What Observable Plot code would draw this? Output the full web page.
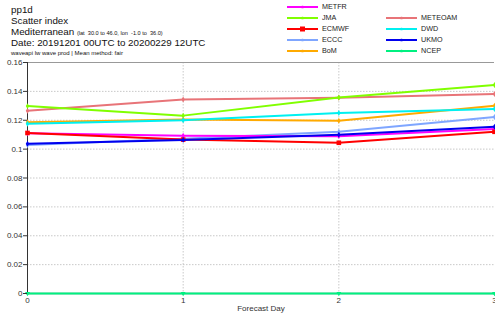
<!DOCTYPE html>
<html><head><meta charset="utf-8">
<script src="https://cdn.jsdelivr.net/npm/d3@7"></script>
<script src="https://cdn.jsdelivr.net/npm/@observablehq/plot@0.6"></script>
<style>
body{margin:0;background:#fff;font-family:"Liberation Sans",Arial,sans-serif;}
#wrap{position:relative;width:495px;height:316px;overflow:hidden;}
#chart{position:absolute;left:0;top:0;}
.t{position:absolute;white-space:nowrap;color:#111;}
.lg{position:absolute;font-size:7.2px;color:#222;white-space:nowrap;}
</style></head>
<body><div id="wrap"><div id="chart"></div>
<div class="t" style="left:11px;top:4px;font-size:9.8px;">pp1d</div>
<div class="t" style="left:11px;top:15px;font-size:9.8px;">Scatter index</div>
<div class="t" style="left:11px;top:26px;font-size:9.8px;">Mediterranean <span style="font-size:5.6px;">(lat&nbsp; 30.0 to 46.0, lon&nbsp; -1.0 to&nbsp; 36.0)</span></div>
<div class="t" style="left:11px;top:37px;font-size:9.8px;">Date: 20191201 00UTC to 20200229 12UTC</div>
<div class="t" style="left:11px;top:50px;font-size:6px;">waveapi lw wave prod | Mean method: fair</div>
<div id="legend"></div>
</div>
<script>
const days = [0, 1, 2, 3];
const seriesNames = ["METFR","JMA","ECMWF","ECCC","BoM","METEOAM","DWD","UKMO","NCEP"];
const seriesColors = ["#ff00ff","#80ff00","#ff0000","#7fa6ff","#ffaa00","#e87478","#00f0f0","#0000ee","#00f080"];
const METFR   = [0.111, 0.1092, 0.109, 0.114];
const JMA     = [0.1298, 0.1232, 0.1357, 0.1444];
const ECMWF   = [0.1112, 0.1066, 0.1044, 0.112];
const ECCC    = [0.1028, 0.1072, 0.112, 0.1222];
const BoM     = [0.1187, 0.1205, 0.1197, 0.130];
const METEOAM = [0.1265, 0.1344, 0.1356, 0.1382];
const DWD     = [0.1176, 0.1200, 0.1250, 0.1278];
const UKMO    = [0.1037, 0.1064, 0.110, 0.1155];
const NCEP    = [0, 0, 0, 0];
const yTicks = [0, 0.02, 0.04, 0.06, 0.08, 0.1, 0.12, 0.14, 0.16];
const xTicks = [0, 1, 2, 3];

const values = {METFR,JMA,ECMWF,ECCC,BoM,METEOAM,DWD,UKMO,NCEP};
const drawOrder = ["NCEP","METEOAM","JMA","BoM","DWD","ECCC","METFR","ECMWF","UKMO"];
const rows = [];
for (const name of drawOrder) days.forEach((d,i)=>rows.push({name, day:d, v:values[name][i]}));
const colorOf = Object.fromEntries(seriesNames.map((n,i)=>[n,seriesColors[i]]));

const marks = [
  Plot.gridY(yTicks.filter(t=>t>0 && t<0.16), {stroke:"#bbb", strokeOpacity:1, strokeDasharray:"1.5,1.5", strokeWidth:0.8}),
  Plot.gridX([1,2], {stroke:"#bbb", strokeOpacity:1, strokeDasharray:"1.5,1.5", strokeWidth:0.8}),
  Plot.ruleY([0.16], {stroke:"#999", strokeWidth:1}),
  Plot.ruleY([0], {stroke:"#999", strokeWidth:1.6}),
  Plot.ruleX([0], {stroke:"#333", strokeWidth:1}),
];
for (const name of drawOrder) {
  const data = rows.filter(r=>r.name===name);
  marks.push(Plot.line(data, {x:"day", y:"v", stroke:colorOf[name], strokeWidth:2}));
  marks.push(Plot.dot(data, {x:"day", y:"v", fill:colorOf[name], stroke:"none",
    symbol: name==="ECMWF" ? "square" : (name==="NCEP" ? "triangle" : "diamond"),
    r: name==="ECMWF" ? 2.6 : 1.8, rotate: name==="NCEP" ? 180 : 0}));
}
marks.push(Plot.axisY(yTicks, {tickSize:4, tickPadding:1, fontSize:8, fill:"#333", stroke:"#333",
  tickFormat: d => String(+d.toFixed(2)), label:null}));
marks.push(Plot.axisX(xTicks, {tickSize:0, tickPadding:4, fontSize:8, fill:"#333", label:null, tickFormat: d => String(d)}));
marks.push(Plot.text(["Forecast Day"], {frameAnchor:"bottom", dy:17, fontSize:8, fill:"#333", text:d=>d}));

const chart = Plot.plot({
  width: 495, height: 316,
  marginTop: 62, marginBottom: 23, marginLeft: 27, marginRight: 1,
  x: {domain:[0,3]},
  y: {domain:[0,0.16]},
  style: {fontFamily:"'Liberation Sans', Arial, sans-serif", background:"#fff", overflow:"visible"},
  marks
});
document.getElementById("chart").appendChild(chart);

// legend (HTML)
const legend = document.getElementById("legend");
const legendPos = {
  METFR:[287,7], JMA:[287,18], ECMWF:[287,29], ECCC:[287,40], BoM:[287,51],
  METEOAM:[386,18], DWD:[386,29], UKMO:[386,40], NCEP:[386,51]
};
for (const name of seriesNames) {
  const [x,y] = legendPos[name];
  const c = colorOf[name];
  const sw = document.createElementNS("http://www.w3.org/2000/svg","svg");
  sw.setAttribute("width",32); sw.setAttribute("height",6);
  sw.style.position="absolute"; sw.style.left=x+"px"; sw.style.top=(y-3)+"px";
  sw.innerHTML = `<line x1="0" x2="31" y1="3" y2="3" stroke="${c}" stroke-width="2"/>` +
    (name==="ECMWF" ? `<rect x="13" y="0.5" width="5" height="5" fill="${c}"/>` : `<circle cx="15.5" cy="3" r="1.6" fill="${c}" opacity="0.6"/>`);
  legend.appendChild(sw);
  const lab = document.createElement("div");
  lab.className="lg"; lab.textContent=name;
  lab.style.left=(x+35)+"px"; lab.style.top=(y-5)+"px";
  legend.appendChild(lab);
}
</script></body></html>
